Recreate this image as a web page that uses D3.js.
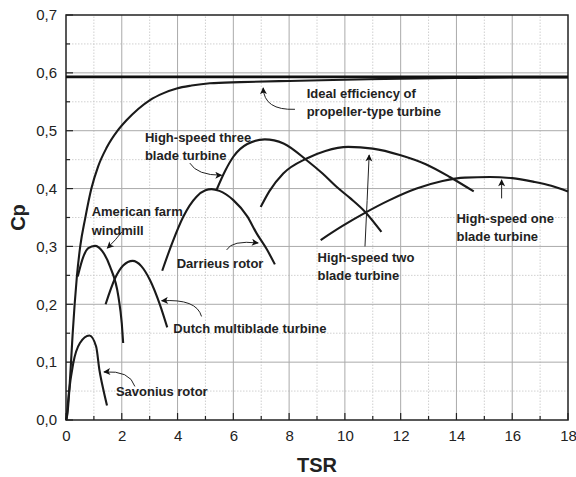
<!DOCTYPE html>
<html><head><meta charset="utf-8">
<script src="https://cdn.jsdelivr.net/npm/d3@7"></script>
<style>body{margin:0;background:#fff}svg{display:block}</style>
</head><body><svg id="c" width="576" height="477"></svg>
<script>
const xTicks = [0,2,4,6,8,10,12,14,16,18];
const yTicks = [0,0.1,0.2,0.3,0.4,0.5,0.6,0.7];
const yTickLabels = ["0,0","0,1","0,2","0,3","0,4","0,5","0,6","0,7"];
const betz = 0.593;

const idealTSR = [0,0.05,0.12,0.18,0.24,0.31,0.39,0.51,0.69,0.91,1.15,1.45,1.85,2.17,2.6,3.01,3.5,3.97,4.5,5.16,6.24,8,10,12,14,16,18];
const idealCp  = [0,0.01,0.052,0.1,0.15,0.2,0.248,0.3,0.349,0.4,0.438,0.47,0.5,0.518,0.538,0.553,0.565,0.573,0.578,0.582,0.584,0.586,0.588,0.590,0.591,0.592,0.592];

const savTSR = [0.02,0.1,0.26,0.5,0.84,1.08,1.2,1.35,1.47];
const savCp  = [0.0,0.045,0.098,0.133,0.146,0.127,0.086,0.05,0.025];

const amTSR = [0.42,0.62,0.8,1.04,1.3,1.58,1.88,2.0,2.05];
const amCp  = [0.248,0.282,0.297,0.301,0.292,0.265,0.213,0.167,0.133];

const dutTSR = [1.42,1.76,2.05,2.39,2.7,3.01,3.37,3.63];
const dutCp  = [0.2,0.245,0.267,0.275,0.266,0.242,0.199,0.16];

const darTSR = [3.45,3.8,4.2,4.68,5.0,5.22,5.5,6.0,6.5,6.83,7.2,7.49];
const darCp  = [0.258,0.305,0.351,0.386,0.397,0.399,0.396,0.38,0.352,0.323,0.295,0.269];

const threeTSR = [5.4,5.7,6.0,6.5,7.13,7.8,8.63,9.2,9.7,10.2,10.72,11.31];
const threeCp  = [0.398,0.43,0.455,0.477,0.485,0.478,0.449,0.426,0.403,0.383,0.36,0.325];

const twoTSR = [6.98,7.3,7.79,8.63,9.3,10.12,11.0,11.97,12.9,13.76,14.62];
const twoCp  = [0.368,0.396,0.426,0.452,0.465,0.472,0.469,0.458,0.442,0.42,0.395];

const oneTSR = [9.13,9.9,10.72,11.6,12.57,13.5,14.3,15.2,16.0,16.75,17.4,18.0];
const oneCp  = [0.311,0.335,0.358,0.38,0.40,0.413,0.419,0.42,0.418,0.412,0.405,0.395];

// annotations: label lines, label anchor (TSR, Cp), arrow start / control / tip (TSR, Cp)
const annLabels = [
  ["Ideal efficiency of","propeller-type turbine"],
  ["High-speed three","blade turbine"],
  ["American farm","windmill"],
  ["Darrieus rotor"],
  ["Dutch multiblade turbine"],
  ["Savonius rotor"],
  ["High-speed two","blade turbine"],
  ["High-speed one","blade turbine"]
];
const annTextX = [8.63,2.83,0.92,3.97,3.85,1.79,9.02,14.0];
const annTextCp = [0.565,0.489,0.36,0.27,0.158,0.049,0.282,0.349];
const arrStart = [[8.21,0.537],[4.44,0.444],[2.0,0.325],[5.76,0.294],[4.86,0.179],[2.47,0.058],[10.72,0.30],[15.62,0.383]];
const arrCtrl  = [[7.1,0.535],[4.7,0.423],[1.8,0.312],[5.94,0.311],[4.68,0.21],[2.29,0.086],[10.8,0.38],[15.62,0.4]];
const arrTip   = [[7.07,0.574],[5.58,0.423],[1.48,0.297],[6.89,0.306],[3.43,0.206],[1.36,0.083],[10.87,0.458],[15.62,0.415]];

const svg = d3.select("#c");
const m = {l:66, r:8, t:15, b:57};
const W = 576, H = 477;
const x = d3.scaleLinear().domain([0,18]).range([m.l, W-m.r]);
const y = d3.scaleLinear().domain([0,0.7]).range([H-m.b, m.t]);
const font = "'Liberation Sans', Arial, Helvetica, sans-serif";

// grid minor
const g = svg.append("g");
d3.range(1,18,2).forEach(v=>{
  g.append("line").attr("x1",x(v)).attr("x2",x(v)).attr("y1",y(0)).attr("y2",y(0.7))
   .attr("stroke","#c4c4c4").attr("stroke-width",0.8).attr("stroke-dasharray","1.5,1.5");
});
d3.range(0.05,0.7,0.1).forEach(v=>{
  g.append("line").attr("x1",x(0)).attr("x2",x(18)).attr("y1",y(v)).attr("y2",y(v))
   .attr("stroke","#c4c4c4").attr("stroke-width",0.8).attr("stroke-dasharray","1.5,1.5");
});
xTicks.slice(1,-1).forEach(v=>{
  g.append("line").attr("x1",x(v)).attr("x2",x(v)).attr("y1",y(0)).attr("y2",y(0.7))
   .attr("stroke","#aaaaaa").attr("stroke-width",1);
});
yTicks.slice(1,-1).forEach(v=>{
  g.append("line").attr("x1",x(0)).attr("x2",x(18)).attr("y1",y(v)).attr("y2",y(v))
   .attr("stroke","#aaaaaa").attr("stroke-width",1);
});

// axes
const xAxis = d3.axisBottom(x).tickValues(xTicks).tickSize(0).tickPadding(10).tickFormat(d3.format("d"));
const yAxis = d3.axisLeft(y).tickValues(yTicks).tickSize(0).tickPadding(9).tickFormat((d,i)=>yTickLabels[i]);
const gx = svg.append("g").attr("transform",`translate(0,${y(0)})`).call(xAxis);
const gy = svg.append("g").attr("transform",`translate(${x(0)},0)`).call(yAxis);
[gx,gy].forEach(a=>{a.select(".domain").remove();
  a.selectAll("text").attr("font-family",font).attr("font-size",15).attr("fill","#222");});

// inner ticks
const tk = svg.append("g").attr("stroke","#222").attr("stroke-width",1.2);
d3.range(0,19,1).forEach(v=>{
  const len = v%2===0?7:4;
  tk.append("line").attr("x1",x(v)).attr("x2",x(v)).attr("y1",y(0)).attr("y2",y(0)-len);
});
d3.range(0,0.71,0.05).forEach((v,i)=>{
  const len = i%2===0?7:4;
  tk.append("line").attr("x1",x(0)).attr("x2",x(0)+len).attr("y1",y(v)).attr("y2",y(v));
});
svg.append("rect").attr("x",x(0)).attr("y",y(0.7)).attr("width",x(18)-x(0)).attr("height",y(0)-y(0.7))
  .attr("fill","none").attr("stroke","#222").attr("stroke-width",1.5);

// curves
const line = d3.line().x(d=>x(d[0])).y(d=>y(d[1])).curve(d3.curveMonotoneX);
const series = [[idealTSR,idealCp],[savTSR,savCp],[amTSR,amCp],[dutTSR,dutCp],[darTSR,darCp],[threeTSR,threeCp],[twoTSR,twoCp],[oneTSR,oneCp]];
series.forEach(([xs,ys])=>{
  svg.append("path").datum(xs.map((v,i)=>[v,ys[i]])).attr("d",line)
    .attr("fill","none").attr("stroke","#1a1a1a").attr("stroke-width",2.1).attr("stroke-linecap","butt");
});
svg.append("line").attr("x1",x(0)).attr("x2",x(18)).attr("y1",y(betz)).attr("y2",y(betz))
  .attr("stroke","#111").attr("stroke-width",2.6);

// arrows
svg.append("defs").append("marker").attr("id","ah").attr("viewBox","0 0 10 10")
  .attr("refX",9).attr("refY",5).attr("markerWidth",9).attr("markerHeight",7)
  .attr("markerUnits","userSpaceOnUse").attr("orient","auto")
  .append("path").attr("d","M0,0 L10,5 L0,10 L2.5,5 Z").attr("fill","#111");
arrStart.forEach((s,i)=>{
  const c = arrCtrl[i], t = arrTip[i];
  svg.append("path").attr("d",`M${x(s[0])},${y(s[1])} Q${x(c[0])},${y(c[1])} ${x(t[0])},${y(t[1])}`)
    .attr("fill","none").attr("stroke","#222").attr("stroke-width",1).attr("marker-end","url(#ah)");
});

// labels
annLabels.forEach((lines,i)=>{
  lines.forEach((s,j)=>{
    svg.append("text").attr("x",x(annTextX[i])).attr("y",y(annTextCp[i])+j*18.5)
      .attr("dy","0.36em").attr("font-family",font).attr("font-weight","bold")
      .attr("font-size",13).attr("fill","#222").text(s);
  });
});

// axis titles
svg.append("text").attr("x",(x(0)+x(18))/2).attr("y",472).attr("text-anchor","middle")
  .attr("font-family",font).attr("font-weight","bold").attr("font-size",20).attr("fill","#222").text("TSR");
svg.append("text").attr("transform",`translate(25,${(y(0)+y(0.7))/2}) rotate(-90)`).attr("text-anchor","middle")
  .attr("font-family",font).attr("font-weight","bold").attr("font-size",20).attr("fill","#222").text("Cp");
</script></body></html>
